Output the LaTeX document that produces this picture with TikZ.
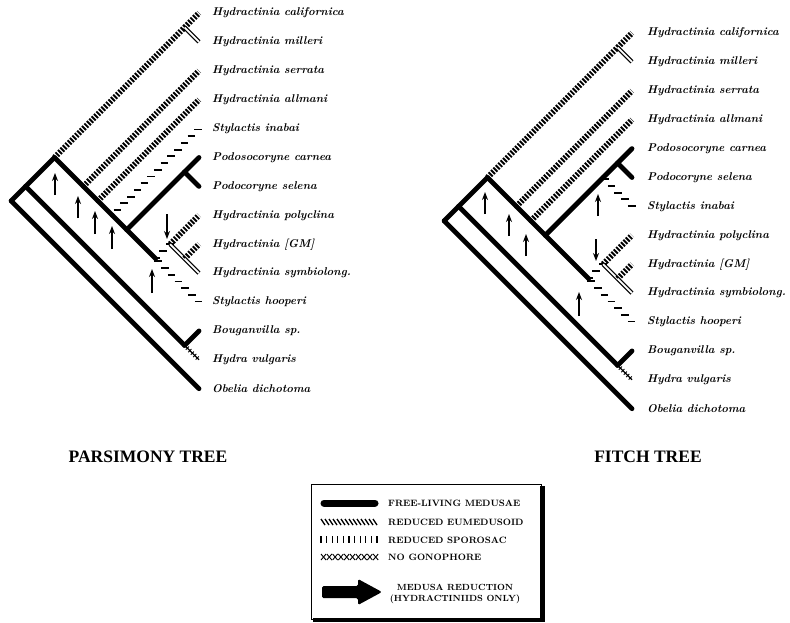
\documentclass[tikz,border=0pt]{standalone}
\usepackage{fontspec}
\newfontfamily\ttlfont{Liberation Serif}
\usetikzlibrary{arrows.meta,decorations.markings,calc}
\newcommand\tnode[3]{\coordinate (#1) at ({\TX-(#3-#2)*\HS},{\TY+(#2+#3)*\HS});}
\begin{document}
\begin{tikzpicture}[x=1pt,y=-1pt,
  free/.style={line width=4.8pt, line cap=round},
  spor/.style={line width=5.8pt, dash pattern=on 1.9pt off 1.5pt},
  dbl/.style={double, double distance=1.8pt, line width=1.2pt},
  eum/.style={decoration={markings, mark=between positions 0.06 and 1 step 9.5pt with {\pgftransformresetnontranslations \draw[line width=1.8pt] (-3.8pt,0)--(3.8pt,0);}}, decorate},
  nogon/.style={line width=1.2pt, postaction={draw, line width=4.5pt, dash pattern=on 0.9pt off 2.6pt}},
  arr/.style={line width=1.9pt, -{Stealth[length=8pt,width=6pt]}},
  lab/.style={anchor=west, inner sep=0pt, font=\fontsize{11.3}{13}\selectfont\bfseries\itshape},
  ttl/.style={inner sep=0pt, font=\ttlfont\fontsize{17.5}{21}\selectfont\bfseries},
  leg/.style={anchor=west, inner sep=0pt, font=\fontsize{9.2}{10}\selectfont\bfseries}]
\useasboundingbox (0,0) rectangle (790,623);
\def\HS{14.45}
% ---------------- left tree (parsimony)
\def\TX{199}\def\TY{13}
\tnode{Lcal}{0}{0}\tnode{Lmil}{1}{1}\tnode{Lser}{2}{2}\tnode{Lall}{3}{3}
\tnode{Lina}{4}{4}\tnode{Lcar}{5}{5}\tnode{Lsel}{6}{6}\tnode{Lpol}{7}{7}
\tnode{Lgm}{8}{8}\tnode{Lsym}{9}{9}\tnode{Lhoo}{10}{10}\tnode{Lbou}{11}{11}
\tnode{Lhyd}{12}{12}\tnode{Lobe}{13}{13}
\tnode{Lroot}{0}{13}\tnode{LN1}{0}{12}\tnode{LBH}{11}{12}\tnode{LN2}{0}{10}
\tnode{LCM}{0}{1}\tnode{LS}{2}{10}\tnode{LA}{3}{10}\tnode{LI}{4}{10}
\tnode{LP}{5}{10}\tnode{LCS}{5}{6}\tnode{LN5}{7}{10}\tnode{LPG}{7}{9}\tnode{LGS}{8}{9}
\draw[free] (Lroot)--(Lobe);
\draw[free] (Lroot)--(LN1);
\draw[free] (LN1)--(LBH);
\draw[free] (LBH)--(Lbou);
\draw[nogon] (LBH)--(Lhyd);
\draw[free] (LN1)--(LN2);
\draw[spor] (LN2)--(LCM);
\draw[spor] (LCM)--(Lcal);
\draw[dbl] (LCM)--(Lmil);
\draw[free] (LN2)--(LS);
\draw[spor] (LS)--(Lser);
\draw[free] (LS)--(LA);
\draw[spor] (LA)--(Lall);
\draw[free] (LA)--(LI);
\draw[eum] (LI)--(Lina);
\draw[free] (LI)--(LP);
\draw[free] (LP)--(LCS);
\draw[free] (LCS)--(Lcar);
\draw[free] (LCS)--(Lsel);
\draw[free] (LP)--(LN5);
\draw[eum] (LN5)--(Lhoo);
\draw[eum] (LN5)--(LPG);
\draw[spor] (LPG)--(Lpol);
\draw[dbl] (LPG)--(LGS);
\draw[spor] (LGS)--(Lgm);
\draw[dbl] (LGS)--(Lsym);
\node[lab] (tLcal) at ([xshift=13pt]Lcal) {Hydractinia californica};
\node[lab] (tLmil) at ([xshift=13pt]Lmil) {Hydractinia milleri};
\node[lab] (tLser) at ([xshift=13pt]Lser) {Hydractinia serrata};
\node[lab] (tLall) at ([xshift=13pt]Lall) {Hydractinia allmani};
\node[lab] (tLina) at ([xshift=13pt]Lina) {Stylactis inabai};
\node[lab] (tLcar) at ([xshift=13pt]Lcar) {Podosocoryne carnea};
\node[lab] (tLsel) at ([xshift=13pt]Lsel) {Podocoryne selena};
\node[lab] (tLpol) at ([xshift=13pt]Lpol) {Hydractinia polyclina};
\node[lab] (tLgm) at ([xshift=13pt]Lgm) {Hydractinia [GM]};
\node[lab] (tLsym) at ([xshift=13pt]Lsym) {Hydractinia symbiolong.};
\node[lab] (tLhoo) at ([xshift=13pt]Lhoo) {Stylactis hooperi};
\node[lab] (tLbou) at ([xshift=13pt]Lbou) {Bouganvilla sp.};
\node[lab] (tLhyd) at ([xshift=13pt]Lhyd) {Hydra vulgaris};
\node[lab] (tLobe) at ([xshift=13pt]Lobe) {Obelia dichotoma};
\coordinate (La1) at (55,195); \coordinate (La1e) at (55,173);
\coordinate (La2) at (78,218); \coordinate (La2e) at (78,196);
\coordinate (La3) at (95,234); \coordinate (La3e) at (95,211);
\coordinate (La4) at (112,249); \coordinate (La4e) at (112,226);
\coordinate (La5) at (152,293); \coordinate (La5e) at (152,269);
\coordinate (La6) at (167,214); \coordinate (La6e) at (167,239);
\foreach \a in {1,...,6} \draw[arr] (La\a)--(La\a e);
% ---------------- right tree (Fitch)
\def\TX{632}\def\TY{33}
\tnode{Rcal}{0}{0}\tnode{Rmil}{1}{1}\tnode{Rser}{2}{2}\tnode{Rall}{3}{3}
\tnode{Rcar}{4}{4}\tnode{Rsel}{5}{5}\tnode{Rina}{6}{6}\tnode{Rpol}{7}{7}
\tnode{Rgm}{8}{8}\tnode{Rsym}{9}{9}\tnode{Rhoo}{10}{10}\tnode{Rbou}{11}{11}
\tnode{Rhyd}{12}{12}\tnode{Robe}{13}{13}
\tnode{Rroot}{0}{13}\tnode{RN1}{0}{12}\tnode{RBH}{11}{12}\tnode{RN2}{0}{10}
\tnode{RCM}{0}{1}\tnode{RS}{2}{10}\tnode{RA}{3}{10}\tnode{RP}{4}{10}
\tnode{RCSI}{4}{6}\tnode{RCS}{4}{5}\tnode{RN5}{7}{10}\tnode{RPG}{7}{9}\tnode{RGS}{8}{9}
\draw[free] (Rroot)--(Robe);
\draw[free] (Rroot)--(RN1);
\draw[free] (RN1)--(RBH);
\draw[free] (RBH)--(Rbou);
\draw[nogon] (RBH)--(Rhyd);
\draw[free] (RN1)--(RN2);
\draw[spor] (RN2)--(RCM);
\draw[spor] (RCM)--(Rcal);
\draw[dbl] (RCM)--(Rmil);
\draw[free] (RN2)--(RS);
\draw[spor] (RS)--(Rser);
\draw[free] (RS)--(RA);
\draw[spor] (RA)--(Rall);
\draw[free] (RA)--(RP);
\draw[free] (RP)--(RCSI);
\draw[free] (RCSI)--(RCS);
\draw[free] (RCS)--(Rcar);
\draw[free] (RCS)--(Rsel);
\draw[eum] (RCSI)--(Rina);
\draw[free] (RP)--(RN5);
\draw[eum] (RN5)--(Rhoo);
\draw[eum] (RN5)--(RPG);
\draw[spor] (RPG)--(Rpol);
\draw[dbl] (RPG)--(RGS);
\draw[spor] (RGS)--(Rgm);
\draw[dbl] (RGS)--(Rsym);
\node[lab] (tRcal) at ([xshift=15pt]Rcal) {Hydractinia californica};
\node[lab] (tRmil) at ([xshift=15pt]Rmil) {Hydractinia milleri};
\node[lab] (tRser) at ([xshift=15pt]Rser) {Hydractinia serrata};
\node[lab] (tRall) at ([xshift=15pt]Rall) {Hydractinia allmani};
\node[lab] (tRcar) at ([xshift=15pt]Rcar) {Podosocoryne carnea};
\node[lab] (tRsel) at ([xshift=15pt]Rsel) {Podocoryne selena};
\node[lab] (tRina) at ([xshift=15pt]Rina) {Stylactis inabai};
\node[lab] (tRpol) at ([xshift=15pt]Rpol) {Hydractinia polyclina};
\node[lab] (tRgm) at ([xshift=15pt]Rgm) {Hydractinia [GM]};
\node[lab] (tRsym) at ([xshift=15pt]Rsym) {Hydractinia symbiolong.};
\node[lab] (tRhoo) at ([xshift=15pt]Rhoo) {Stylactis hooperi};
\node[lab] (tRbou) at ([xshift=15pt]Rbou) {Bouganvilla sp.};
\node[lab] (tRhyd) at ([xshift=15pt]Rhyd) {Hydra vulgaris};
\node[lab] (tRobe) at ([xshift=15pt]Robe) {Obelia dichotoma};
\coordinate (Ra1) at (485,214); \coordinate (Ra1e) at (485,192);
\coordinate (Ra2) at (509,236); \coordinate (Ra2e) at (509,214);
\coordinate (Ra3) at (526,256); \coordinate (Ra3e) at (526,234);
\coordinate (Ra4) at (598,216); \coordinate (Ra4e) at (598,194);
\coordinate (Ra5) at (596,239); \coordinate (Ra5e) at (596,261);
\coordinate (Ra6) at (579,316); \coordinate (Ra6e) at (579,292);
\foreach \a in {1,...,6} \draw[arr] (Ra\a)--(Ra\a e);
% ---------------- titles
\node[ttl] (ttlL) at (148,457) {PARSIMONY TREE};
\node[ttl] (ttlR) at (648,457) {FITCH TREE};
% ---------------- legend
\draw[line width=1pt] (311,484) rectangle (541,619);
\fill (540,486) rectangle (545,622);
\fill (313,618) rectangle (545,622);
\draw[line width=7pt, line cap=round] (324,503)--(375,503);
\foreach \i in {0,...,13} \draw[line width=1.3pt] ({321+\i*4},519)--({325+\i*4},525);
\foreach \i in {0,...,10} \draw[line width=1.2pt] ({321+\i*5.6},536)--({321+\i*5.6},543);
\foreach \i in {0,...,9} {\draw[line width=0.9pt] ({321+\i*5.8},554)--({326+\i*5.8},560);
  \draw[line width=0.9pt] ({321+\i*5.8},560)--({326+\i*5.8},554);}
\fill[rounded corners=1.5pt] (322,586) -- (358,586) -- (358,579) -- (382,592) -- (358,605) -- (358,598) -- (322,598) -- cycle;
\node[leg] (l1) at (388,503) {FREE-LIVING MEDUSAE};
\node[leg] (l2) at (388,522) {REDUCED EUMEDUSOID};
\node[leg] (l3) at (388,540) {REDUCED SPOROSAC};
\node[leg] (l4) at (388,557) {NO GONOPHORE};
\node[inner sep=0pt, align=center, font=\fontsize{8.9}{11}\selectfont\bfseries] (l5) at (455,594) {MEDUSA REDUCTION\\(HYDRACTINIIDS ONLY)};
\end{tikzpicture}
\end{document}
